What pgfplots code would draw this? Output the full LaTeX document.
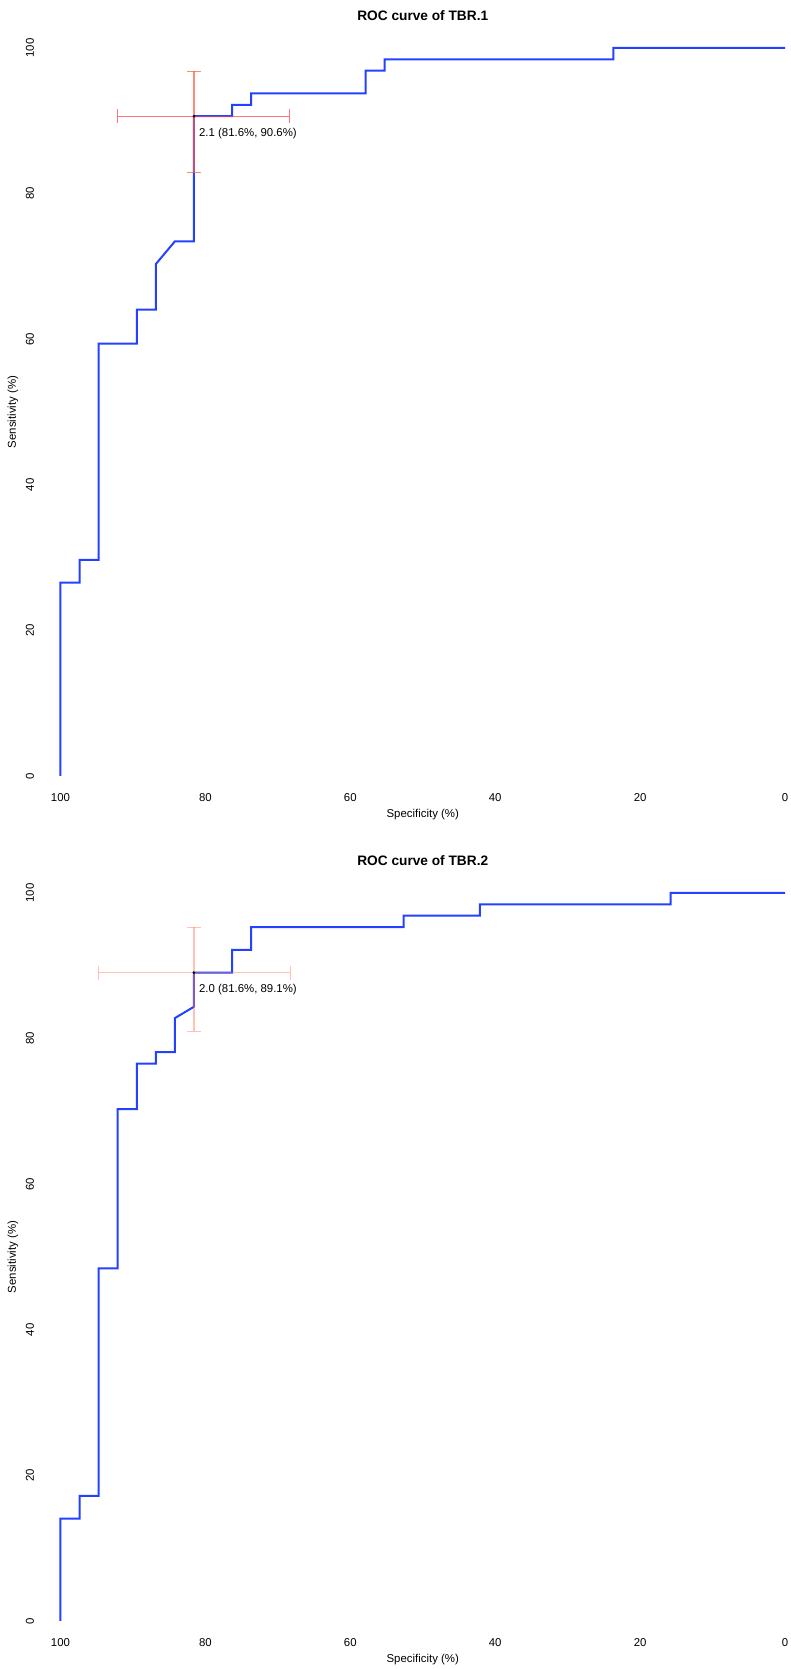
\documentclass[border=0pt]{standalone}
\usepackage{fontspec}
\setmainfont{Liberation Sans}
\usepackage{pgfplots}
\pgfplotsset{compat=1.18}
\definecolor{rocblue}{RGB}{35,65,255}
\definecolor{cired}{RGB}{255,60,70}
\definecolor{ciorange}{RGB}{255,90,60}
\definecolor{cilight}{RGB}{255,120,90}
\newcommand{\lblfont}{\fontsize{11.4}{13}\selectfont}
\pgfplotsset{
  rocaxis/.style={
    scale only axis, width=724.5pt, height=728pt,
    xmin=0, xmax=100, ymin=0, ymax=100, x dir=reverse,
    axis line style={draw=none}, major tick length=0pt,
    xtick={0,20,40,60,80,100}, ytick={0,20,40,60,80,100},
    /pgf/number format/assume math mode=true,
    tick label style={font=\lblfont},
    xticklabel style={anchor=center}, xticklabel shift=22pt,
    yticklabel style={rotate=90, anchor=center}, yticklabel shift=30.5pt,
    xlabel={Specificity (\%)}, ylabel={Sensitivity (\%)},
    label style={font=\lblfont},
    xlabel style={at={(axis description cs:0.5,-0.0536)}, anchor=center},
    ylabel style={at={(axis description cs:-0.0656,0.5)}, anchor=center},
    title style={at={(axis description cs:0.5,1)}, anchor=center, yshift=26pt, font=\bfseries\fontsize{13.7}{16}\selectfont},
    clip=false,
  }
}
\begin{document}
\begin{tikzpicture}[x=1pt,y=1pt]
\useasboundingbox (0,0) rectangle (790,1669);
% ---------- top ----------
\begin{axis}[rocaxis, at={(60.5pt,893pt)}, anchor=south west, title={ROC curve of TBR.1}]
\addplot[rocblue, line width=2pt] coordinates {
(100,0) (100,26.5625) (97.368,26.5625) (97.368,29.6875) (94.737,29.6875) (94.737,59.375)
(89.474,59.375) (89.474,64.0625) (86.842,64.0625) (86.842,70.3125) (84.211,73.4375)
(81.579,73.4375) (81.579,90.625) (76.316,90.625) (76.316,92.1875) (73.684,92.1875)
(73.684,93.75) (57.895,93.75) (57.895,96.875) (55.263,96.875) (55.263,98.4375)
(23.684,98.4375) (23.684,100) (0,100)};
\addplot[cired, opacity=0.7, line width=1.2pt] coordinates {(92.1,90.625) (68.4,90.625)};
\addplot[cired, opacity=0.7, line width=1.2pt] coordinates {(92.1,89.665) (92.1,91.585)};
\addplot[cired, opacity=0.7, line width=1.2pt] coordinates {(68.4,89.665) (68.4,91.585)};
\addplot[ciorange, opacity=0.7, line width=1.2pt] coordinates {(81.579,82.9) (81.579,96.8)};
\addplot[ciorange, opacity=0.7, line width=1.2pt] coordinates {(82.5,82.9) (80.66,82.9)};
\addplot[ciorange, opacity=0.7, line width=1.2pt] coordinates {(82.5,96.8) (80.66,96.8)};
\addplot[only marks, mark=*, mark size=1.1pt, black] coordinates {(81.579,90.625)};
\node[anchor=west, inner sep=0pt, font=\lblfont, xshift=5pt, yshift=-17pt] at (axis cs:81.579,90.625) {2.1 (81.6\%, 90.6\%)};
\end{axis}
% ---------- bottom ----------
\begin{axis}[rocaxis, at={(60.5pt,48pt)}, anchor=south west, title={ROC curve of TBR.2}]
\addplot[rocblue, line width=2pt] coordinates {
(100,0) (100,14.0625) (97.368,14.0625) (97.368,17.1875) (94.737,17.1875) (94.737,48.4375)
(92.105,48.4375) (92.105,70.3125) (89.474,70.3125) (89.474,76.5625) (86.842,76.5625)
(86.842,78.125) (84.211,78.125) (84.211,82.8125) (81.579,84.375) (81.579,89.0625)
(76.316,89.0625) (76.316,92.1875) (73.684,92.1875) (73.684,95.3125) (52.632,95.3125)
(52.632,96.875) (42.105,96.875) (42.105,98.4375) (15.789,98.4375) (15.789,100) (0,100)};
\addplot[cilight, opacity=0.45, line width=1.2pt] coordinates {(94.8,89.0625) (68.3,89.0625)};
\addplot[cilight, opacity=0.45, line width=1.2pt] coordinates {(94.8,88.1) (94.8,90.02)};
\addplot[cilight, opacity=0.45, line width=1.2pt] coordinates {(68.3,88.1) (68.3,90.02)};
\addplot[cilight, opacity=0.45, line width=1.2pt] coordinates {(81.579,81.0) (81.579,95.3)};
\addplot[cilight, opacity=0.45, line width=1.2pt] coordinates {(82.5,81.0) (80.66,81.0)};
\addplot[cilight, opacity=0.45, line width=1.2pt] coordinates {(82.5,95.3) (80.66,95.3)};
\addplot[only marks, mark=*, mark size=1.1pt, black] coordinates {(81.579,89.0625)};
\node[anchor=west, inner sep=0pt, font=\lblfont, xshift=5pt, yshift=-17pt] at (axis cs:81.579,89.0625) {2.0 (81.6\%, 89.1\%)};
\end{axis}
\end{tikzpicture}
\end{document}
